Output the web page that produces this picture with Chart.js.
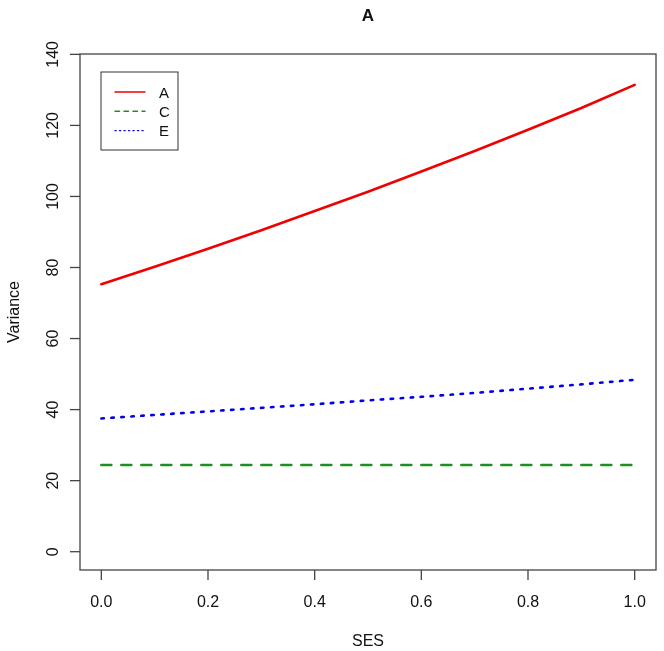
<!DOCTYPE html>
<html>
<head>
<meta charset="utf-8">
<script src="https://cdn.jsdelivr.net/npm/chart.js@4"></script>
<style>
  body { margin: 0; background: #fff; }
  canvas { display: block; }
</style>
</head>
<body>
<canvas id="chart" width="664" height="651"></canvas>
<script>
// values
const ses = [0, 0.1, 0.2, 0.3, 0.4, 0.5, 0.6, 0.7, 0.8, 0.9, 1.0];
const varA = [75.3, 80.2, 85.3, 90.5, 95.9, 101.3, 107.0, 112.8, 118.8, 124.9, 131.4];
const varC = [24.4, 24.4, 24.4, 24.4, 24.4, 24.4, 24.4, 24.4, 24.4, 24.4, 24.4];
const varE = [37.5, 38.5, 39.5, 40.5, 41.5, 42.6, 43.6, 44.7, 45.9, 47.1, 48.4];
const seriesNames = ["A", "C", "E"];
const chartTitle = "A";
const xTitle = "SES";
const yTitle = "Variance";

const FONT = '"Liberation Sans", Arial, sans-serif';
const INK = "#111";
const AXIS = "#444";

function toPoints(values) {
  return ses.map((s, i) => ({ x: s, y: values[i] }));
}

// R-like box, ticks, labels, title and legend
const rStyle = {
  id: "rStyle",
  afterDraw(chart) {
    const { ctx, chartArea: a, scales: { x, y } } = chart;
    ctx.save();
    ctx.strokeStyle = AXIS;
    ctx.lineWidth = 1.3;
    ctx.strokeRect(a.left, a.top, a.right - a.left, a.bottom - a.top);

    ctx.fillStyle = INK;
    ctx.font = "16px " + FONT;
    ctx.textAlign = "center";
    ctx.textBaseline = "alphabetic";

    x.ticks.forEach(t => {
      const px = x.getPixelForValue(t.value);
      ctx.beginPath();
      ctx.moveTo(px, a.bottom);
      ctx.lineTo(px, a.bottom + 10);
      ctx.stroke();
      ctx.fillText(t.value.toFixed(1), px, a.bottom + 36.6);
    });

    y.ticks.forEach(t => {
      const py = y.getPixelForValue(t.value);
      ctx.beginPath();
      ctx.moveTo(a.left, py);
      ctx.lineTo(a.left - 10, py);
      ctx.stroke();
      ctx.save();
      ctx.translate(a.left - 21.7, py);
      ctx.rotate(-Math.PI / 2);
      ctx.fillText(String(t.value), 0, 0);
      ctx.restore();
    });

    // axis titles
    const midX = (a.left + a.right) / 2;
    const midY = (a.top + a.bottom) / 2;
    ctx.fillText(xTitle, midX, a.bottom + 75.5);
    ctx.save();
    ctx.translate(19, midY);
    ctx.rotate(-Math.PI / 2);
    ctx.fillText(yTitle, 0, 0);
    ctx.restore();

    // main title
    ctx.font = "bold 17px " + FONT;
    ctx.fillText(chartTitle, midX, 20.7);

    // legend
    const lx = 101, ly = 72, lw = 77, lh = 78;
    ctx.lineWidth = 1;
    ctx.strokeStyle = "#333";
    ctx.strokeRect(lx, ly, lw, lh);
    ctx.font = "15px " + FONT;
    ctx.textAlign = "left";
    chart.data.datasets.forEach((ds, i) => {
      const yy = 92 + i * 19.3;
      ctx.save();
      ctx.strokeStyle = ds.borderColor;
      ctx.lineWidth = 1.4;
      ctx.lineCap = "round";
      ctx.setLineDash((ds.borderDash || []).map(d => d * 0.45));
      ctx.beginPath();
      ctx.moveTo(115, yy);
      ctx.lineTo(145, yy);
      ctx.stroke();
      ctx.restore();
      ctx.fillText(ds.label, 159, yy + 5.5);
    });
    ctx.restore();
  }
};

new Chart(document.getElementById("chart"), {
  type: "line",
  data: {
    datasets: [
      {
        label: seriesNames[0],
        data: toPoints(varA),
        borderColor: "#f00000",
        borderWidth: 2.6,
        borderCapStyle: "round",
        pointRadius: 0,
        tension: 0
      },
      {
        label: seriesNames[1],
        data: toPoints(varC),
        borderColor: "#1f8f1f",
        borderWidth: 2.6,
        borderDash: [10, 10],
        borderCapStyle: "round",
        pointRadius: 0,
        tension: 0
      },
      {
        label: seriesNames[2],
        data: toPoints(varE),
        borderColor: "#0000ee",
        borderWidth: 2.6,
        borderDash: [2.5, 7.5],
        borderCapStyle: "round",
        pointRadius: 0,
        tension: 0
      }
    ]
  },
  options: {
    responsive: false,
    animation: false,
    devicePixelRatio: 1,
    layout: { padding: { top: 54, right: 8, left: 0, bottom: 0 } },
    plugins: {
      legend: { display: false },
      title: { display: false },
      tooltip: { enabled: false }
    },
    scales: {
      x: {
        type: "linear",
        min: -0.04,
        max: 1.04,
        grid: { display: false },
        border: { display: false },
        ticks: { display: false, stepSize: 0.2, includeBounds: false },
        afterFit: s => { s.height = 81; }
      },
      y: {
        type: "linear",
        min: -5.15,
        max: 140.1,
        grid: { display: false },
        border: { display: false },
        ticks: { display: false, stepSize: 20, includeBounds: false },
        afterFit: s => { s.width = 80; }
      }
    }
  },
  plugins: [rStyle]
});
</script>
</body>
</html>
